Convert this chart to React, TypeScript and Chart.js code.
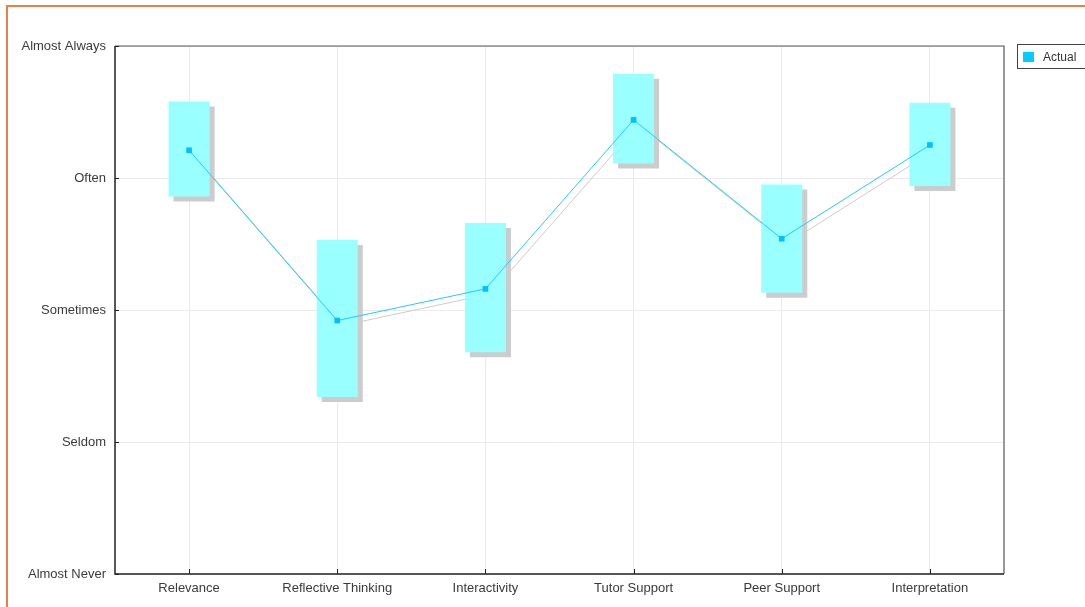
import React, { useEffect, useRef } from "react";
import { Chart, registerables } from "chart.js";

Chart.register(...registerables);

const categories = ["Relevance", "Reflective Thinking", "Interactivity", "Tutor Support", "Peer Support", "Interpretation"];
const yLabels = ["Almost Never", "Seldom", "Sometimes", "Often", "Almost Always"];
const actualValues = [4.21, 2.92, 3.16, 4.44, 3.54, 4.25];
const rangeLow = [3.86, 2.34, 2.68, 4.11, 3.13, 3.94];
const rangeHigh = [4.58, 3.53, 3.66, 4.79, 3.95, 4.57];
const seriesName = "Actual";

const FONT = "'Liberation Sans', Arial, sans-serif";

const shadowPlugin = {
  id: "shadowShift",
  beforeDatasetDraw(chart: any, args: any) {
    const ds = chart.data.datasets[args.index];
    if (ds.isShadow) {
      chart.ctx.save();
      chart.ctx.translate(5, 5);
    }
  },
  afterDatasetDraw(chart: any, args: any) {
    const ds = chart.data.datasets[args.index];
    if (ds.isShadow) chart.ctx.restore();
  },
};

const framePlugin = {
  id: "frameAndLegend",
  afterDraw(chart: any) {
    const { ctx, chartArea } = chart;
    const { left, right, top, bottom } = chartArea;
    ctx.save();
    ctx.strokeStyle = "#555";
    ctx.lineWidth = 1.2;
    ctx.beginPath();
    ctx.moveTo(left, top);
    ctx.lineTo(right, top);
    ctx.lineTo(right, bottom);
    ctx.stroke();
    ctx.strokeStyle = "#222";
    ctx.lineWidth = 1.5;
    ctx.beginPath();
    ctx.moveTo(left, top);
    ctx.lineTo(left, bottom);
    ctx.lineTo(right, bottom);
    ctx.stroke();
    ctx.lineWidth = 1;
    ctx.strokeStyle = "#222";
    const xs = chart.scales.x;
    const ys = chart.scales.y;
    ctx.beginPath();
    categories.forEach((_, i) => {
      const x = Math.round(xs.getPixelForValue(i)) + 0.5;
      ctx.moveTo(x, bottom);
      ctx.lineTo(x, bottom - 5);
    });
    yLabels.forEach((_, i) => {
      const y = Math.round(ys.getPixelForValue(i + 1)) + 0.5;
      ctx.moveTo(left, y);
      ctx.lineTo(left + 4, y);
    });
    ctx.stroke();
    const lx = 1017.5, ly = 44.5;
    ctx.fillStyle = "#fff";
    ctx.fillRect(lx, ly, 90, 24);
    ctx.strokeStyle = "#444";
    ctx.lineWidth = 1;
    ctx.strokeRect(lx, ly, 90, 24);
    ctx.fillStyle = "#00CCFF";
    ctx.fillRect(1023, 52, 11, 10);
    ctx.fillStyle = "#333";
    ctx.font = `12px ${FONT}`;
    ctx.textBaseline = "middle";
    ctx.textAlign = "left";
    ctx.fillText(seriesName, 1043, 57.5);
    ctx.restore();
  },
};

export default function App() {
  const ref = useRef<HTMLCanvasElement | null>(null);
  useEffect(() => {
    if (!ref.current) return;
    const ranges = rangeLow.map((lo, i) => [lo, rangeHigh[i]]);
    const chart = new Chart(ref.current, {
      type: "bar",
      data: {
        labels: categories,
        datasets: [
          {
            type: "line",
            label: seriesName,
            data: actualValues,
            borderColor: "#22CCF5",
            backgroundColor: "#00CCFF",
            borderWidth: 1,
            pointStyle: "rect",
            pointRadius: 4,
            pointBackgroundColor: "#00C0FF",
            pointBorderWidth: 0,
            order: 0,
          } as any,
          {
            type: "bar",
            label: "range",
            data: ranges as any,
            backgroundColor: "#99FFFF",
            borderWidth: 0,
            grouped: false,
            barPercentage: 0.277,
            categoryPercentage: 1,
            order: 1,
          } as any,
          {
            type: "bar",
            label: "range shadow",
            isShadow: true,
            data: ranges as any,
            backgroundColor: "#CCCCCC",
            borderWidth: 0,
            grouped: false,
            barPercentage: 0.277,
            categoryPercentage: 1,
            order: 2,
          } as any,
          {
            type: "line",
            label: "line shadow",
            isShadow: true,
            data: actualValues,
            borderColor: "#CCCCCC",
            borderWidth: 1,
            pointRadius: 0,
            order: 3,
          } as any,
        ],
      },
      options: {
        animation: false,
        responsive: false,
        layout: { padding: { top: 46, right: 81, left: 0, bottom: 0 } },
        plugins: { legend: { display: false }, tooltip: { enabled: false } },
        scales: {
          x: {
            offset: true,
            grid: { offset: false, color: "#EBEBEB", drawTicks: false, lineWidth: 1 },
            border: { display: false },
            ticks: { color: "#3a3a3a", font: { family: FONT, size: 13 }, padding: 7, maxRotation: 0, autoSkip: false },
            afterFit: (s: any) => { s.height = 33; },
          },
          y: {
            min: 1,
            max: 5,
            grid: { color: "#EBEBEB", drawTicks: false, lineWidth: 1 },
            border: { display: false },
            ticks: {
              stepSize: 1,
              color: "#3a3a3a",
              font: { family: FONT, size: 13 },
              padding: 9,
              callback: (v: any) => yLabels[Math.round(Number(v)) - 1] ?? "",
            },
            afterFit: (s: any) => { s.width = 115; },
          },
        },
      },
      plugins: [shadowPlugin, framePlugin],
    });
    return () => chart.destroy();
  }, []);
  return (
    <div style={{ position: "fixed", left: 0, top: 0, width: 1085, height: 607, background: "#fff" }}>
      <canvas ref={ref} width={1085} height={607} style={{ display: "block" }} />
      <div
        style={{
          position: "fixed",
          left: 6,
          top: 5,
          width: 1200,
          height: 700,
          borderLeft: "2px solid #E8804A",
          borderTop: "2px solid #E8804A",
          pointerEvents: "none",
        }}
      />
    </div>
  );
}
